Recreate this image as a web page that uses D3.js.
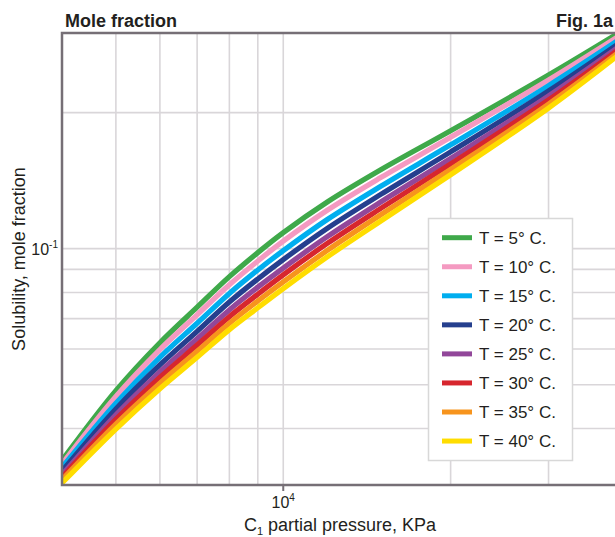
<!DOCTYPE html>
<html>
<head>
<meta charset="utf-8">
<script src="https://cdn.jsdelivr.net/npm/d3@7"></script>
<style>
  body { margin: 0; background: #fff; }
  svg { display: block; font-family: "Liberation Sans", Arial, sans-serif; }
</style>
</head>
<body>
<svg id="chart" width="615" height="537"></svg>
<script>
// C1 partial pressure (KPa) where the curves were read
const pressure = [4000, 5000, 6000, 7000, 8000, 9000, 10000, 12000, 15000, 20000, 30000, 40000];

// solubility, mole fraction, one array per temperature
const t5  = [0.0340, 0.0485, 0.0619, 0.0742, 0.0867, 0.0980, 0.1085, 0.1268, 0.1496, 0.1823, 0.2422, 0.2994];
const t10 = [0.0334, 0.0471, 0.0598, 0.0714, 0.0832, 0.0939, 0.1039, 0.1216, 0.1438, 0.1763, 0.2361, 0.2944];
const t15 = [0.0328, 0.0455, 0.0575, 0.0684, 0.0796, 0.0897, 0.0990, 0.1160, 0.1376, 0.1697, 0.2295, 0.2888];
const t20 = [0.0322, 0.0442, 0.0553, 0.0656, 0.0762, 0.0857, 0.0946, 0.1109, 0.1320, 0.1637, 0.2234, 0.2837];
const t25 = [0.0316, 0.0429, 0.0534, 0.0632, 0.0732, 0.0822, 0.0906, 0.1063, 0.1270, 0.1583, 0.2178, 0.2790];
const t30 = [0.0312, 0.0419, 0.0519, 0.0612, 0.0707, 0.0793, 0.0875, 0.1027, 0.1229, 0.1539, 0.2133, 0.2751];
const t35 = [0.0308, 0.0409, 0.0504, 0.0593, 0.0684, 0.0766, 0.0844, 0.0991, 0.1190, 0.1497, 0.2089, 0.2712];
const t40 = [0.0303, 0.0399, 0.0490, 0.0575, 0.0662, 0.0740, 0.0816, 0.0959, 0.1153, 0.1457, 0.2047, 0.2676];

const labels = ["T = 5° C.", "T = 10° C.", "T = 15° C.", "T = 20° C.", "T = 25° C.", "T = 30° C.", "T = 35° C.", "T = 40° C."];
const colors = ["#3fa94a", "#f49ac1", "#00aeef", "#253f8e", "#92479a", "#d7262e", "#f7941d", "#ffdd00"];

const xGrid = [5000, 6000, 7000, 8000, 9000, 10000, 20000, 30000];
const yGrid = [0.04, 0.05, 0.06, 0.07, 0.08, 0.09, 0.1, 0.2];

const series = [t5, t10, t15, t20, t25, t30, t35, t40];

const svg = d3.select('#chart');
const pL = 62, pR = 618, pT = 33, pB = 485;
const ink = '#231f20';
const axisColor = '#766f76';

const x = d3.scaleLog().domain([4000, 40000]).range([pL, pR]);
const y = d3.scaleLog().domain([0.03, 0.3]).range([pB, pT]);

// titles
svg.append('text').attr('x', 65).attr('y', 26.5)
  .attr('font-size', 18).attr('font-weight', 'bold').attr('fill', ink)
  .text('Mole fraction');
svg.append('text').attr('x', 613).attr('y', 26.5).attr('text-anchor', 'end')
  .attr('font-size', 18).attr('font-weight', 'bold').attr('fill', ink)
  .text('Fig. 1a');

// grid
const grid = svg.append('g').attr('stroke', '#d9d6d9').attr('stroke-width', 1.6);
grid.selectAll('.gx').data(xGrid).enter().append('line')
  .attr('x1', d => x(d)).attr('x2', d => x(d)).attr('y1', pT).attr('y2', pB);
grid.selectAll('.gy').data(yGrid).enter().append('line')
  .attr('y1', d => y(d)).attr('y2', d => y(d)).attr('x1', pL).attr('x2', pR);

// curves
svg.append('clipPath').attr('id', 'plot').append('rect')
  .attr('x', pL).attr('y', pT).attr('width', pR - pL).attr('height', pB - pT);

const line = d3.line()
  .x((d, i) => x(pressure[i]))
  .y(d => y(d))
  .curve(d3.curveCatmullRom.alpha(0.5));

svg.append('g').attr('clip-path', 'url(#plot)')
  .selectAll('path').data(series).enter().append('path')
  .attr('d', d => line(d))
  .attr('fill', 'none')
  .attr('stroke', (d, i) => colors[i])
  .attr('stroke-width', 5.2);

// frame
const frame = svg.append('g').attr('stroke', axisColor).attr('stroke-width', 2.5).attr('fill', 'none');
frame.append('path').attr('d', `M${pR},${pT}H${pL}V${pB}H${pR}`);
frame.append('line').attr('x1', x(10000)).attr('x2', x(10000))
  .attr('y1', pB).attr('y2', pB + 6).attr('stroke-width', 2);

// tick labels
const xt = svg.append('text').attr('x', x(10000)).attr('y', 508)
  .attr('text-anchor', 'middle').attr('font-size', 16).attr('fill', ink);
xt.append('tspan').text('10');
xt.append('tspan').attr('font-size', 10).attr('dy', -7).text('4');

const yt = svg.append('text').attr('x', 58).attr('y', y(0.1) + 6)
  .attr('text-anchor', 'end').attr('font-size', 16).attr('fill', ink);
yt.append('tspan').text('10');
yt.append('tspan').attr('font-size', 10).attr('dy', -7).text('-1');

// axis titles
const xl = svg.append('text').attr('x', (pL + pR) / 2).attr('y', 531)
  .attr('text-anchor', 'middle').attr('font-size', 18).attr('fill', ink);
xl.append('tspan').text('C');
xl.append('tspan').attr('font-size', 11).attr('dy', 4).text('1');
xl.append('tspan').attr('dy', -4).text(' partial pressure, KPa');

svg.append('text')
  .attr('transform', `translate(25,${(pT + pB) / 2}) rotate(-90)`)
  .attr('text-anchor', 'middle').attr('font-size', 18).attr('fill', ink)
  .text('Solubility, mole fraction');

// legend
const lg = svg.append('g');
lg.append('rect').attr('x', 428.5).attr('y', 218.5).attr('width', 144).attr('height', 242)
  .attr('fill', '#fff').attr('stroke', '#d8d8d8').attr('stroke-width', 1.5);
const rows = lg.selectAll('g.row').data(labels).enter().append('g')
  .attr('transform', (d, i) => `translate(0,${237.7 + i * 29.05})`);
rows.append('line').attr('x1', 442).attr('x2', 472).attr('y1', 0).attr('y2', 0)
  .attr('stroke', (d, i) => colors[i]).attr('stroke-width', 5);
rows.append('text').attr('x', 479).attr('y', 6).attr('font-size', 17).attr('fill', ink)
  .text(d => d);
</script>
</body>
</html>
